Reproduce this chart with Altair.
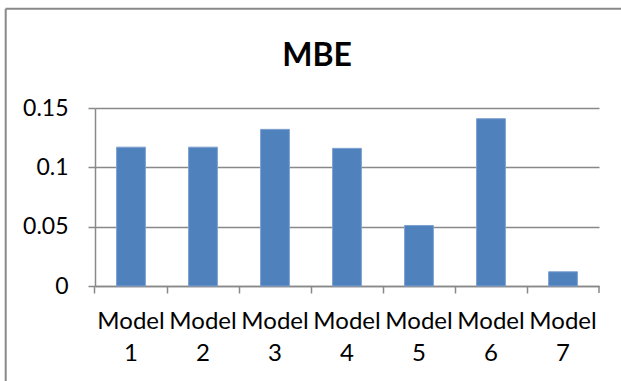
import altair as alt
import pandas as pd

# Mean bias error per model
models = ["Model 1", "Model 2", "Model 3", "Model 4", "Model 5", "Model 6", "Model 7"]
mbe = [0.117, 0.117, 0.132, 0.116, 0.051, 0.141, 0.012]
y_ticks = [0, 0.05, 0.1, 0.15]

df = pd.DataFrame({"model": models, "mbe": mbe})

W, H = 504, 178
GRAY = "#898989"
FONT = "Lato"

bars = alt.Chart(df).mark_bar(
    color="#4F81BD", stroke="#7EA0CF", strokeWidth=1
).encode(
    x=alt.X(
        "model:N",
        sort=models,
        scale=alt.Scale(paddingInner=0.6, paddingOuter=0.3),
        axis=alt.Axis(
            title=None,
            labelAngle=0,
            labelExpr="split(datum.label, ' ')",
            labelFontSize=24,
            labelLineHeight=32,
            labelPadding=16,
            labelOverlap=False,
            bandPosition=-0.75,
            tickSize=7,
            grid=False,
        ),
    ),
    y=alt.Y(
        "mbe:Q",
        scale=alt.Scale(domain=[0, 0.15], nice=False),
        axis=alt.Axis(
            title=None,
            values=y_ticks,
            labelExpr="format(datum.value, '.2~f')",
            labelFontSize=23,
            labelPadding=20,
            tickSize=7,
            grid=True,
        ),
    ),
)

one = pd.DataFrame({"k": [0]})

# closing tick at the right end of the category axis
end_tick = alt.Chart(one).mark_rule(color=GRAY, strokeWidth=1.5).encode(
    x=alt.value(W), y=alt.value(H), y2=alt.value(H + 7)
)

# chart-area frame (top and left edges)
frame_top = alt.Chart(one).mark_rule(color=GRAY, strokeWidth=2).encode(
    x=alt.value(-89.3), x2=alt.value(W + 40), y=alt.value(-99.3)
)
frame_left = alt.Chart(one).mark_rule(color=GRAY, strokeWidth=2).encode(
    x=alt.value(-89.3), y=alt.value(-99.3), y2=alt.value(H + 110)
)

chart = alt.layer(bars, end_tick, frame_top, frame_left).properties(
    width=W,
    height=H,
    padding={"left": 95, "top": 108, "right": 22, "bottom": 95},
    autosize=alt.AutoSizeParams(type="none"),
    title=alt.TitleParams(
        "MBE", font=FONT, fontSize=32, fontWeight="bold", color="black",
        anchor="middle", baseline="alphabetic", dx=-30, offset=-90,
    ),
).configure_view(
    stroke=None
).configure_axis(
    labelFont=FONT,
    labelColor="black",
    domainColor=GRAY,
    domainWidth=1.5,
    tickColor=GRAY,
    tickWidth=1.5,
    gridColor=GRAY,
    gridWidth=1.3,
)

chart.save("out.html", embed_options={"renderer": "svg", "actions": False})
